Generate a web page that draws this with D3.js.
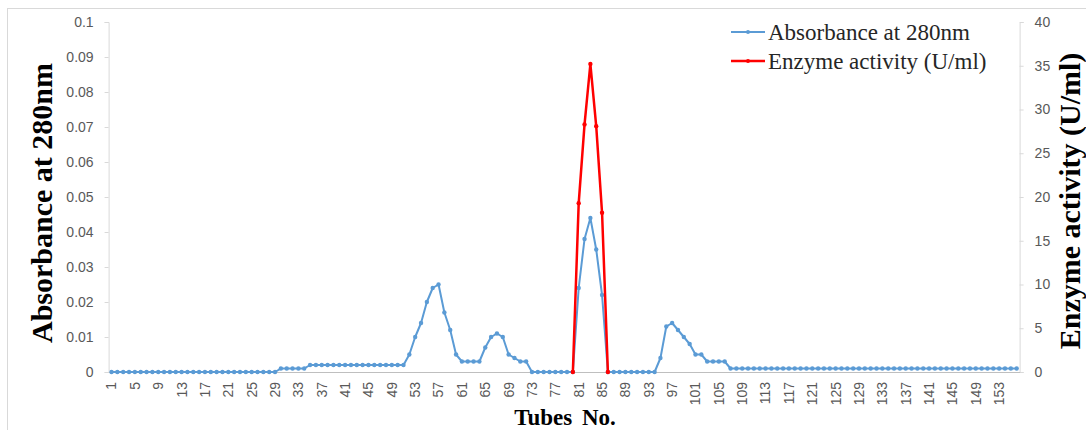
<!DOCTYPE html>
<html>
<head>
<meta charset="utf-8">
<script src="https://cdn.jsdelivr.net/npm/d3@7"></script>
<style>
  body { margin: 0; background: #fff; }
  svg { display: block; }
</style>
</head>
<body>
<div id="chart"></div>
<script>
// tubes 1..156
var tubes = d3.range(1, 157);

// absorbance at 280nm, one value per tube
var absorbance = [
  0, 0, 0, 0, 0, 0, 0, 0, 0, 0,
  0, 0, 0, 0, 0, 0, 0, 0, 0, 0,
  0, 0, 0, 0, 0, 0, 0, 0, 0, 0.001,
  0.001, 0.001, 0.001, 0.001, 0.002, 0.002, 0.002, 0.002, 0.002, 0.002,
  0.002, 0.002, 0.002, 0.002, 0.002, 0.002, 0.002, 0.002, 0.002, 0.002,
  0.002, 0.005, 0.010, 0.014, 0.020, 0.024, 0.025, 0.017, 0.012, 0.005,
  0.003, 0.003, 0.003, 0.003, 0.007, 0.010, 0.011, 0.010, 0.005, 0.004,
  0.003, 0.003, 0, 0, 0, 0, 0, 0, 0, 0,
  0.024, 0.038, 0.044, 0.035, 0.022, 0, 0, 0, 0, 0,
  0, 0, 0, 0, 0.004, 0.013, 0.014, 0.012, 0.010, 0.008,
  0.005, 0.005, 0.003, 0.003, 0.003, 0.003, 0.001, 0.001, 0.001, 0.001,
  0.001, 0.001, 0.001, 0.001, 0.001, 0.001, 0.001, 0.001, 0.001, 0.001,
  0.001, 0.001, 0.001, 0.001, 0.001, 0.001, 0.001, 0.001, 0.001, 0.001,
  0.001, 0.001, 0.001, 0.001, 0.001, 0.001, 0.001, 0.001, 0.001, 0.001,
  0.001, 0.001, 0.001, 0.001, 0.001, 0.001, 0.001, 0.001, 0.001, 0.001,
  0.001, 0.001, 0.001, 0.001, 0.001, 0.001
];

// enzyme activity (U/ml), only measured around the peak
var enzymeTubes = [80, 81, 82, 83, 84, 85, 86];
var enzymeValues = [0, 19.3, 28.3, 35.2, 28.1, 18.2, 0];

var leftTicks = [0, 0.01, 0.02, 0.03, 0.04, 0.05, 0.06, 0.07, 0.08, 0.09, 0.1];
var rightTicks = [0, 5, 10, 15, 20, 25, 30, 35, 40];
var xTickLabels = tubes.filter(function(t) { return (t - 1) % 4 === 0; });

var width = 1086, height = 430;
var plotLeft = 108.6, plotRight = 1019.6, plotTop = 22, plotBottom = 372;

var svg = d3.select("#chart").append("svg")
    .attr("width", width)
    .attr("height", height);

// outer chart frame
svg.append("rect")
    .attr("x", 7.5).attr("y", 8.5)
    .attr("width", 1100).attr("height", 440)
    .attr("fill", "none")
    .attr("stroke", "#d9d9d9");

var x = d3.scaleBand().domain(tubes).range([plotLeft, plotRight]);
var y = d3.scaleLinear().domain([0, 0.1]).range([plotBottom, plotTop]);
var y2 = d3.scaleLinear().domain([0, 40]).range([plotBottom, plotTop]);
var cx = function(t) { return x(t) + x.bandwidth() / 2; };

var sans = "Liberation Sans, Arial, sans-serif";

// left axis
var gl = svg.append("g")
    .attr("transform", "translate(" + plotLeft + ",0)")
    .call(d3.axisLeft(y).tickValues(leftTicks).tickSize(4).tickPadding(11)
      .tickFormat(function(d) { return String(+d.toFixed(2)); }));
gl.select(".domain").attr("stroke", "#d9d9d9");
gl.selectAll(".tick line").attr("stroke", "#d9d9d9");
gl.selectAll(".tick text")
    .attr("fill", "#595959")
    .style("font-family", sans)
    .style("font-size", "14px");

// right axis
var gr = svg.append("g")
    .attr("transform", "translate(" + plotRight + ",0)")
    .call(d3.axisRight(y2).tickValues(rightTicks).tickSize(4).tickPadding(11));
gr.select(".domain").attr("stroke", "#d9d9d9");
gr.selectAll(".tick line").attr("stroke", "#d9d9d9");
gr.selectAll(".tick text")
    .attr("fill", "#595959")
    .style("font-family", sans)
    .style("font-size", "14px");

// bottom axis
var gb = svg.append("g")
    .attr("transform", "translate(0," + plotBottom + ")")
    .call(d3.axisBottom(x).tickValues(xTickLabels).tickSize(0).tickPadding(0));
gb.select(".domain").attr("stroke", "#bfbfbf");
gb.selectAll(".tick text")
    .attr("fill", "#595959")
    .style("font-family", sans)
    .style("font-size", "14px")
    .style("text-anchor", "end")
    .attr("transform", "rotate(-90)")
    .attr("x", -10)
    .attr("y", 0)
    .attr("dy", "0.35em");

// absorbance line
var line = d3.line()
    .x(function(d, i) { return cx(tubes[i]); })
    .y(function(d) { return y(d); });

svg.append("path")
    .datum(absorbance)
    .attr("fill", "none")
    .attr("stroke", "#5b9bd5")
    .attr("stroke-width", 2)
    .attr("stroke-linejoin", "round")
    .attr("d", line);

svg.selectAll(".absDot")
    .data(absorbance)
  .enter().append("circle")
    .attr("class", "absDot")
    .attr("cx", function(d, i) { return cx(tubes[i]); })
    .attr("cy", function(d) { return y(d); })
    .attr("r", 2.2)
    .attr("fill", "#5b9bd5");

// enzyme activity line
var line2 = d3.line()
    .x(function(d, i) { return cx(enzymeTubes[i]); })
    .y(function(d) { return y2(d); });

svg.append("path")
    .datum(enzymeValues)
    .attr("fill", "none")
    .attr("stroke", "#ff0000")
    .attr("stroke-width", 2.5)
    .attr("stroke-linejoin", "round")
    .attr("d", line2);

svg.selectAll(".enzDot")
    .data(enzymeValues)
  .enter().append("circle")
    .attr("class", "enzDot")
    .attr("cx", function(d, i) { return cx(enzymeTubes[i]); })
    .attr("cy", function(d) { return y2(d); })
    .attr("r", 2.2)
    .attr("fill", "#ff0000");

// axis titles
var serif = "Liberation Serif, Times New Roman, serif";

svg.append("text")
    .attr("transform", "translate(52,203) rotate(-90)")
    .attr("text-anchor", "middle")
    .style("font-family", serif)
    .style("font-weight", "bold")
    .style("font-size", "30px")
    .attr("fill", "#000")
    .text("Absorbance at 280nm");

svg.append("text")
    .attr("transform", "translate(1080,201) rotate(-90)")
    .attr("text-anchor", "middle")
    .style("font-family", serif)
    .style("font-weight", "bold")
    .style("font-size", "30px")
    .attr("fill", "#000")
    .text("Enzyme activity (U/ml)");

svg.append("text")
    .attr("x", 565)
    .attr("y", 425)
    .attr("text-anchor", "middle")
    .style("font-family", serif)
    .style("font-weight", "bold")
    .style("font-size", "23px")
    .style("word-spacing", "4px")
    .attr("fill", "#000")
    .text("Tubes No.");

// legend
var legend = [
  { name: "Absorbance at 280nm", color: "#5b9bd5", w: 2 },
  { name: "Enzyme activity (U/ml)", color: "#ff0000", w: 2.5 }
];
var lg = svg.selectAll(".legend")
    .data(legend)
  .enter().append("g")
    .attr("class", "legend")
    .attr("transform", function(d, i) { return "translate(731," + (32 + i * 29) + ")"; });
lg.append("line")
    .attr("x1", 0).attr("x2", 34)
    .attr("stroke", function(d) { return d.color; })
    .attr("stroke-width", function(d) { return d.w; });
lg.append("circle")
    .attr("cx", 17).attr("r", 2)
    .attr("fill", function(d) { return d.color; });
lg.append("text")
    .attr("x", 37)
    .attr("dy", "0.33em")
    .style("font-family", serif)
    .style("font-size", "23px")
    .attr("fill", "#262626")
    .text(function(d) { return d.name; });
</script>
</body>
</html>
